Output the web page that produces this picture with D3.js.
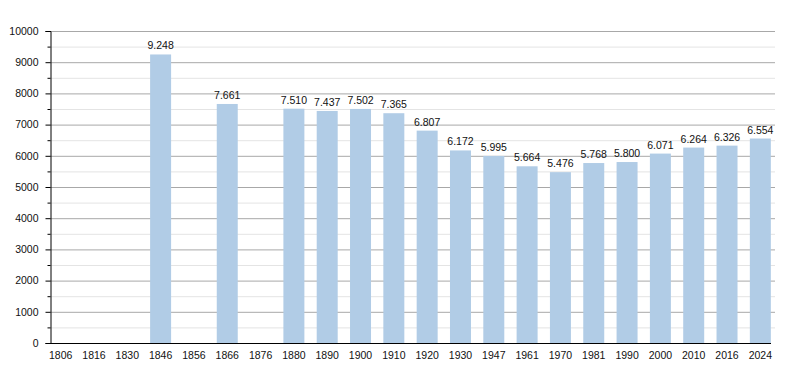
<!DOCTYPE html>
<html>
<head>
<meta charset="utf-8">
<script src="https://cdn.jsdelivr.net/npm/d3@7"></script>
<style>
  body { margin: 0; background: #fff; }
  svg { display: block; font-family: "Liberation Sans", Arial, sans-serif; }
</style>
</head>
<body>
<div id="chart"></div>
<script>
// census years and population (null = no data)
const years = ["1806", "1816", "1830", "1846", "1856", "1866", "1876", "1880", "1890", "1900", "1910",
  "1920", "1930", "1947", "1961", "1970", "1981", "1990", "2000", "2010", "2016", "2024"];
const population = [null, null, null, 9248, null, 7661, null, 7510, 7437, 7502, 7365,
  6807, 6172, 5995, 5664, 5476, 5768, 5800, 6071, 6264, 6326, 6554];
const yTicks = [0, 1000, 2000, 3000, 4000, 5000, 6000, 7000, 8000, 9000, 10000];

const width = 800, height = 373;
const plotLeft = 50, plotRight = 775, plotTop = 31, plotBottom = 343;

const svg = d3.select("#chart").append("svg")
  .attr("width", width)
  .attr("height", height);

const x = d3.scaleBand()
  .domain(years)
  .range([44, 777])
  .paddingInner(0.37)
  .paddingOuter(0.185);

const y = d3.scaleLinear()
  .domain([0, 10000])
  .range([plotBottom, plotTop]);

const fmt = d3.formatLocale({ decimal: ",", thousands: ".", grouping: [3], currency: ["", ""] }).format(",d");

// minor grid lines every 500
const minor = d3.range(500, 10000, 1000);
svg.append("g").selectAll("line").data(minor).join("line")
  .attr("x1", plotLeft).attr("x2", plotRight)
  .attr("y1", d => y(d) + 0.5).attr("y2", d => y(d) + 0.5)
  .attr("stroke", "#e4e4e4");

// major grid lines
svg.append("g").selectAll("line").data(yTicks.slice(1)).join("line")
  .attr("x1", plotLeft).attr("x2", plotRight)
  .attr("y1", d => y(d) + 0.5).attr("y2", d => y(d) + 0.5)
  .attr("stroke", "#a8a8a8");

// bars
const data = years.map((yr, i) => ({ year: yr, value: population[i] })).filter(d => d.value != null);

svg.append("g").selectAll("rect").data(data).join("rect")
  .attr("x", d => x(d.year))
  .attr("width", x.bandwidth())
  .attr("y", d => y(d.value))
  .attr("height", d => y(0) - y(d.value))
  .attr("fill", "#b1cce6");

// value labels
svg.append("g").selectAll("text").data(data).join("text")
  .attr("x", d => x(d.year) + x.bandwidth() / 2)
  .attr("y", d => y(d.value) - 5)
  .attr("text-anchor", "middle")
  .attr("font-size", 10.5)
  .attr("fill", "#111")
  .text(d => fmt(d.value));

// y axis
const yAxis = svg.append("g")
  .attr("transform", `translate(${plotLeft + 0.5},0)`)
  .call(d3.axisLeft(y).tickValues(yTicks).tickSize(5).tickPadding(7).tickFormat(d3.format("d")));
yAxis.select(".domain").attr("stroke", "#000");
yAxis.selectAll("text").attr("font-size", 10.5).attr("fill", "#111");
yAxis.selectAll("line.minor").data(minor).join("line")
  .attr("class", "minor")
  .attr("x1", -3).attr("x2", 0)
  .attr("y1", d => y(d) + 0.5).attr("y2", d => y(d) + 0.5)
  .attr("stroke", "#000");

// x axis
const xAxis = svg.append("g")
  .attr("transform", `translate(0,${plotBottom + 0.5})`)
  .call(d3.axisBottom(x).tickSize(0).tickPadding(8));
xAxis.select(".domain").attr("stroke", "#000").attr("d", `M${plotLeft},0H771`);
xAxis.selectAll("text").attr("font-size", 10.5).attr("fill", "#111");
svg.selectAll(".tick text").attr("font-family", null);
svg.selectAll("g.tick").filter(function () { return this.parentNode.getAttribute("font-family"); });
svg.selectAll("g[font-family]").attr("font-family", null);
</script>
</body>
</html>
